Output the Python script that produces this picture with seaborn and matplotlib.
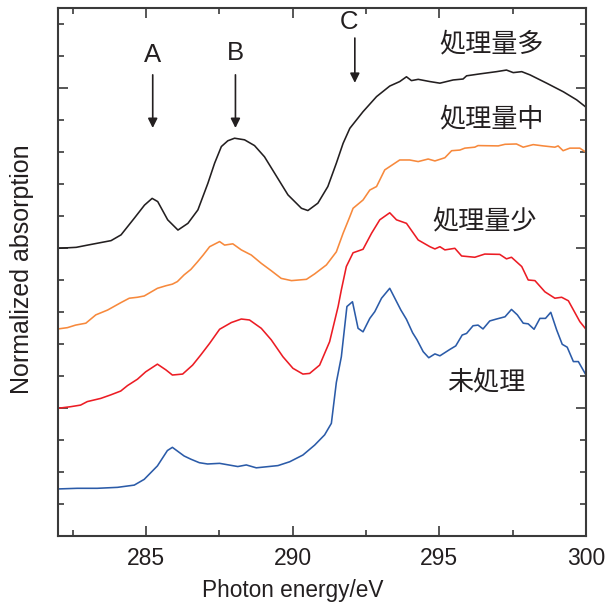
import matplotlib
matplotlib.use("Agg")
import matplotlib.pyplot as plt
import numpy as np
import pandas as pd
import seaborn as sns
from matplotlib.ticker import FixedLocator, MultipleLocator

sns.set_theme(style="ticks")
plt.rcParams['font.family'] = ['Liberation Sans', 'Noto Sans CJK JP', 'DejaVu Sans']

# spectra (energy in eV, offset normalized absorption)
black_e = [282.0, 282.62, 283.01, 283.81, 284.15, 284.61, 284.95, 285.21, 285.40, 285.74, 286.09,
           286.43, 286.77, 287.11, 287.34, 287.57, 287.79, 288.02, 288.36, 288.70, 289.04, 289.39,
           289.84, 290.30, 290.52, 290.86, 291.20, 291.49, 291.72, 291.95, 292.40, 292.86, 293.31,
           293.65, 293.88, 294.05, 294.28, 294.68, 295.02, 295.47, 295.81, 295.93, 296.38, 296.95,
           297.29, 297.52, 297.81, 298.09, 298.66, 299.23, 299.68, 300.0]
black_y = [8.99, 9.02, 9.09, 9.23, 9.41, 9.94, 10.34, 10.55, 10.45, 9.88, 9.56,
           9.77, 10.19, 11.02, 11.65, 12.17, 12.35, 12.43, 12.38, 12.20, 11.85, 11.33,
           10.66, 10.24, 10.17, 10.40, 10.92, 11.65, 12.27, 12.74, 13.26, 13.73, 14.06,
           14.20, 14.35, 14.23, 14.27, 14.20, 14.15, 14.25, 14.28, 14.38, 14.44, 14.51,
           14.56, 14.48, 14.51, 14.41, 14.15, 13.88, 13.63, 13.40]

orange_e = [282.0, 282.32, 282.60, 282.95, 283.29, 283.69, 284.14, 284.43, 284.71, 284.94, 285.39,
            285.68, 285.90, 286.07, 286.30, 286.53, 286.76, 286.95, 287.17, 287.51, 287.68, 287.96,
            288.25, 288.59, 288.93, 289.27, 289.61, 289.96, 290.47, 290.75, 291.15, 291.49, 291.72,
            291.95, 292.06, 292.40, 292.63, 292.86, 293.14, 293.65, 293.99, 294.28, 294.62, 294.85,
            295.19, 295.42, 295.70, 295.87, 296.21, 296.32, 297.01, 297.24, 297.63, 297.86, 298.20,
            298.54, 298.94, 299.05, 299.22, 299.45, 299.79, 300.0]
orange_y = [6.47, 6.51, 6.59, 6.65, 6.91, 7.06, 7.29, 7.43, 7.46, 7.50, 7.74,
            7.82, 7.87, 7.95, 8.16, 8.33, 8.57, 8.78, 9.04, 9.20, 9.09, 9.13,
            8.94, 8.78, 8.52, 8.29, 8.05, 7.98, 8.02, 8.19, 8.47, 8.88, 9.46,
            9.98, 10.24, 10.50, 10.81, 10.92, 11.44, 11.75, 11.75, 11.70, 11.78, 11.72,
            11.82, 12.04, 12.06, 12.12, 12.15, 12.20, 12.19, 12.24, 12.25, 12.15, 12.23,
            12.19, 12.15, 12.19, 12.04, 12.12, 12.12, 11.99]

red_e = [282.0, 282.43, 282.77, 283.0, 283.46, 283.80, 284.14, 284.37, 284.71, 284.99, 285.39,
         285.68, 285.90, 286.25, 286.59, 286.87, 287.17, 287.51, 287.91, 288.25, 288.53, 288.93,
         289.27, 289.67, 290.01, 290.35, 290.58, 290.92, 291.26, 291.55, 291.66, 291.83, 292.06,
         292.40, 292.69, 292.97, 293.31, 293.54, 293.88, 294.28, 294.68, 294.85, 295.02, 295.19,
         295.53, 295.76, 296.21, 296.55, 297.06, 297.29, 297.46, 297.81, 298.03, 298.26, 298.60,
         298.94, 299.17, 299.40, 299.79, 300.0]
red_y = [3.99, 4.04, 4.09, 4.20, 4.30, 4.41, 4.53, 4.70, 4.90, 5.13, 5.37,
         5.19, 5.03, 5.06, 5.34, 5.66, 6.02, 6.46, 6.67, 6.78, 6.75, 6.49,
         6.13, 5.60, 5.24, 5.06, 5.08, 5.34, 6.07, 7.17, 7.69, 8.42, 8.85,
         8.96, 9.46, 9.88, 10.10, 9.88, 9.77, 9.25, 9.04, 8.97, 9.04, 8.94,
         8.99, 8.75, 8.71, 8.81, 8.80, 8.66, 8.71, 8.42, 8.00, 7.98, 7.63,
         7.43, 7.46, 7.35, 6.70, 6.46]

blue_e = [282.0, 282.66, 283.34, 284.03, 284.60, 284.94, 285.39, 285.73, 285.90, 286.30, 286.53,
          286.82, 287.10, 287.51, 288.13, 288.42, 288.76, 289.50, 289.90, 290.35, 290.75, 291.09,
          291.32, 291.49, 291.66, 291.85, 292.04, 292.23, 292.40, 292.63, 292.80, 293.03, 293.31,
          293.69, 293.88, 294.09, 294.24, 294.45, 294.64, 294.85, 295.02, 295.36, 295.56, 295.78,
          295.93, 296.15, 296.32, 296.49, 296.72, 296.95, 297.24, 297.46, 297.66, 297.86, 298.03,
          298.23, 298.43, 298.62, 298.80, 299.0, 299.19, 299.36, 299.57, 299.74, 300.0]
blue_y = [1.47, 1.49, 1.49, 1.52, 1.59, 1.77, 2.19, 2.67, 2.77, 2.50, 2.40,
          2.29, 2.25, 2.27, 2.17, 2.22, 2.13, 2.20, 2.32, 2.53, 2.84, 3.16,
          3.52, 4.80, 5.60, 7.17, 7.32, 6.49, 6.38, 6.80, 7.01, 7.43, 7.74,
          7.06, 6.77, 6.35, 6.13, 5.76, 5.57, 5.69, 5.63, 5.83, 5.94, 6.28,
          6.33, 6.57, 6.59, 6.47, 6.72, 6.78, 6.85, 7.08, 6.91, 6.65, 6.63,
          6.46, 6.80, 6.80, 6.99, 6.44, 5.99, 5.90, 5.45, 5.45, 5.03]

series_labels = ['処理量多', '処理量中', '処理量少', '未処理']
label_pos = [(296.78, 15.37), (296.78, 13.02), (296.55, 9.83), (296.59, 4.8)]
peak_names = ['A', 'B', 'C']
peak_e = [285.23, 288.05, 292.12]

ink = '#231f20'
colors = [ink, '#f7893c', '#ec1c24', '#2b5ba8']

fig = plt.figure(figsize=(6.09, 6.04), dpi=100)
ax = fig.add_axes([0.0952, 0.1126, 0.8670, 0.8742])

for e, y, c in zip([black_e, orange_e, red_e, blue_e], [black_y, orange_y, red_y, blue_y], colors):
    df = pd.DataFrame({'e': e, 'y': y})
    sns.lineplot(data=df, x='e', y='y', color=c, lw=1.15, sort=False, estimator=None, ax=ax)

# peak markers
text_y = [15.03, 15.09, 16.06]
arrow_top = [14.41, 14.41, 15.56]
arrow_bot = [12.75, 12.75, 14.16]
for name, e, ty, at, ab in zip(peak_names, peak_e, text_y, arrow_top, arrow_bot):
    tx = e - 0.2 if name == 'C' else e
    ax.text(tx, ty, name, ha='center', va='center', fontsize=18.5, color=ink)
    ax.annotate('', xy=(e, ab), xytext=(e, at),
                arrowprops=dict(arrowstyle='-|>', color=ink, lw=1.2, mutation_scale=14,
                                shrinkA=0, shrinkB=0))

for lab, (lx, ly) in zip(series_labels, label_pos):
    ax.text(lx, ly, lab, ha='center', va='center', fontsize=18.8, color=ink,
            family=['Noto Sans CJK JP', 'DejaVu Sans'], fontweight='normal')

ax.set_xlim(282, 300)
ax.set_ylim(0, 16.5)
ax.set_xticks([285, 290, 295, 300])
ax.xaxis.set_minor_locator(MultipleLocator(2.5))
ax.yaxis.set_major_locator(FixedLocator([4, 9, 14]))
ax.yaxis.set_minor_locator(MultipleLocator(1))
ax.set_yticklabels([])
ax.tick_params(which='both', direction='in', top=True, right=True, color='#3a3a3a', width=1.2)
ax.tick_params(which='major', length=7)
ax.tick_params(which='minor', length=4)
ax.tick_params(axis='x', labelsize=16.5, labelcolor=ink, pad=8)
for s in ax.spines.values():
    s.set_color('#3a3a3a')
    s.set_linewidth(1.5)

ax.set_xlabel('Photon energy/eV', fontsize=16.3, color=ink)
ax.xaxis.set_label_coords(0.444, -0.081)
ax.set_ylabel('Normalized absorption', fontsize=18, color=ink)
ax.yaxis.set_label_coords(-0.046, 0.505)

fig.savefig('out.png', dpi=100)
